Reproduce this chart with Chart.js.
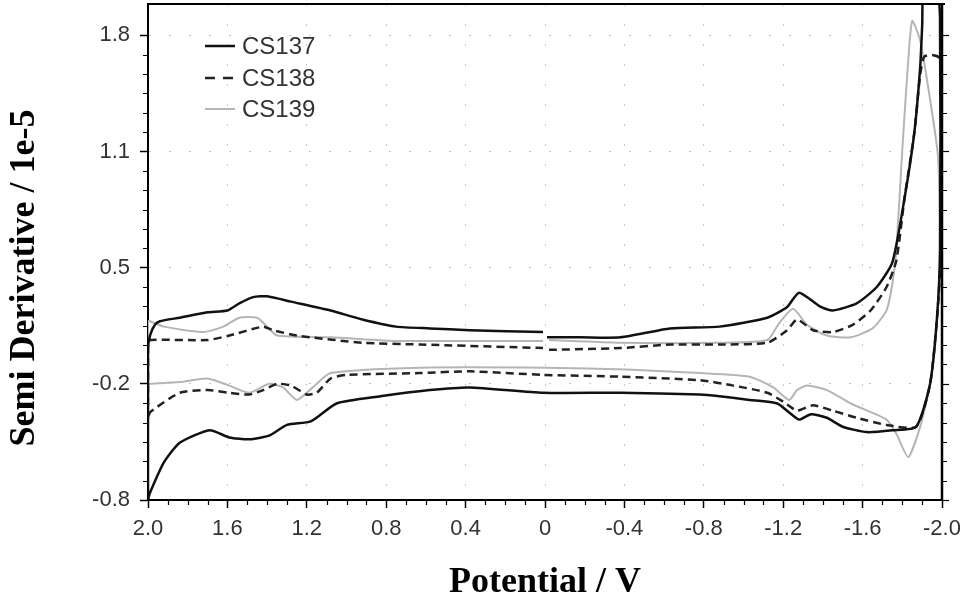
<!DOCTYPE html>
<html><head><meta charset="utf-8">
<script src="https://cdn.jsdelivr.net/npm/chart.js@4.4.1/dist/chart.umd.min.js"></script>
<style>html,body{margin:0;padding:0;background:#fff;}#wrap{width:963px;height:605px;}</style>
</head><body><div id="wrap"><canvas id="c" width="963" height="605"></canvas></div>
<script>
const seriesNames = ['CS137', 'CS138', 'CS139'];

const cs137X = [-0.01, -0.18, -0.38, -0.63, -0.88, -1.12, -1.22, -1.28, -1.39, -1.45, -1.57, -1.67, -1.75, -1.81, -1.86, -1.89, -1.90, -1.91, -1.97, -1.99, -1.99, -1.975, -1.94, -1.87, -1.75, -1.62, -1.50, -1.42, -1.34, -1.28, -1.23, -1.17, -1.03, -0.88, -0.78, -0.38, 0.01, 0.38, 0.58, 0.83, 1.05, 1.18, 1.30, 1.39, 1.49, 1.59, 1.69, 1.84, 1.92, 1.99, 2.0, 2.0, 1.99, 1.965, 1.94, 1.84, 1.70, 1.60, 1.54, 1.47, 1.40, 1.28, 1.08, 0.92, 0.75, 0.58, 0.38, 0.01];
const cs137Y = [0.11, 0.11, 0.11, 0.16, 0.17, 0.22, 0.28, 0.36, 0.28, 0.26, 0.30, 0.39, 0.53, 0.88, 1.25, 1.62, 1.85, 2.10, 2.10, 1.90, 0.60, 0.22, -0.15, -0.39, -0.41, -0.42, -0.39, -0.34, -0.32, -0.35, -0.31, -0.26, -0.24, -0.22, -0.21, -0.20, -0.20, -0.17, -0.185, -0.22, -0.26, -0.36, -0.38, -0.44, -0.46, -0.45, -0.41, -0.48, -0.59, -0.76, -0.80, 0.04, 0.12, 0.18, 0.20, 0.22, 0.25, 0.26, 0.30, 0.335, 0.34, 0.31, 0.26, 0.21, 0.17, 0.16, 0.15, 0.14];

const cs138X = [-0.02, -0.38, -0.63, -0.88, -1.12, -1.22, -1.27, -1.35, -1.45, -1.55, -1.64, -1.72, -1.77, -1.81, -1.86, -1.89, -1.91, -1.95, -1.99, -1.995, -1.975, -1.94, -1.87, -1.72, -1.57, -1.45, -1.35, -1.27, -1.20, -1.12, -0.95, -0.78, -0.38, 0.01, 0.38, 0.63, 1.00, 1.08, 1.15, 1.20, 1.28, 1.35, 1.42, 1.49, 1.59, 1.70, 1.84, 1.99, 2.0, 2.0, 1.99, 1.70, 1.59, 1.42, 1.37, 1.25, 0.92, 0.63, 0.01];
const cs138Y = [0.04, 0.05, 0.07, 0.07, 0.08, 0.15, 0.21, 0.15, 0.14, 0.18, 0.26, 0.39, 0.54, 0.88, 1.25, 1.58, 1.68, 1.69, 1.67, 0.60, 0.22, -0.15, -0.39, -0.38, -0.34, -0.30, -0.27, -0.30, -0.25, -0.20, -0.16, -0.13, -0.11, -0.10, -0.08, -0.09, -0.10, -0.12, -0.20, -0.21, -0.16, -0.15, -0.185, -0.21, -0.20, -0.185, -0.20, -0.31, -0.35, 0.07, 0.095, 0.095, 0.12, 0.17, 0.15, 0.12, 0.08, 0.07, 0.05];

const cs139X = [-0.02, -0.38, -0.88, -1.12, -1.18, -1.25, -1.32, -1.42, -1.54, -1.65, -1.72, -1.75, -1.77, -1.80, -1.83, -1.85, -1.89, -1.94, -1.98, -1.99, -1.975, -1.94, -1.89, -1.83, -1.77, -1.72, -1.54, -1.42, -1.32, -1.27, -1.23, -1.15, -1.03, -0.78, -0.41, -0.01, 0.63, 1.08, 1.17, 1.25, 1.32, 1.39, 1.49, 1.59, 1.70, 1.84, 1.99, 2.0, 2.0, 1.99, 1.92, 1.72, 1.62, 1.54, 1.45, 1.40, 1.35, 1.08, 0.75, 0.58, 0.01];
const cs139Y = [0.095, 0.08, 0.08, 0.095, 0.19, 0.27, 0.18, 0.12, 0.11, 0.16, 0.26, 0.41, 0.60, 1.16, 1.66, 1.88, 1.77, 1.44, 1.12, 0.60, 0.22, -0.15, -0.39, -0.56, -0.43, -0.35, -0.26, -0.185, -0.16, -0.185, -0.24, -0.17, -0.11, -0.09, -0.07, -0.06, -0.06, -0.09, -0.17, -0.24, -0.17, -0.15, -0.20, -0.16, -0.12, -0.14, -0.15, -0.15, 0.20, 0.20, 0.17, 0.14, 0.17, 0.22, 0.22, 0.17, 0.12, 0.11, 0.09, 0.09, 0.09];

const xTickValues = [2.0, 1.6, 1.2, 0.8, 0.4, 0, -0.4, -0.8, -1.2, -1.6, -2.0];
const xTickLabels = ['2.0', '1.6', '1.2', '0.8', '0.4', '0', '-0.4', '-0.8', '-1.2', '-1.6', '-2.0'];
const yTickValues = [-0.8, -0.15, 0.5, 1.15, 1.8];
const yTickLabels = ['-0.8', '-0.2', '0.5', '1.1', '1.8'];
const xTitle = 'Potential / V';
const yTitle = 'Semi Derivative / 1e-5';

function pts(xs, ys) { return xs.map((x, i) => ({ x: x, y: ys[i] })); }

const tickFont = { family: '"Liberation Sans", Arial, sans-serif', size: 22 };

const framePlugin = {
  id: 'frame',
  afterDraw(chart) {
    const ctx = chart.ctx, a = chart.chartArea;
    const xs = chart.scales.x, ys = chart.scales.y;
    ctx.save();
    ctx.strokeStyle = '#000';
    // top and right frame lines
    ctx.lineWidth = 2;
    ctx.beginPath(); ctx.moveTo(a.left, a.top); ctx.lineTo(a.right + 3, a.top); ctx.stroke();
    ctx.lineWidth = 2.5;
    ctx.beginPath(); ctx.moveTo(a.right, a.top); ctx.lineTo(a.right, a.bottom); ctx.stroke();
    // minor ticks
    ctx.lineWidth = 1.2;
    const yStep = 0.65 / 6;
    for (let k = 0; k <= 24; k++) {
      const py = Math.round(ys.getPixelForValue(-0.8 + k * yStep)) + 0.5;
      ctx.beginPath();
      if (k % 6 !== 0) { ctx.moveTo(a.left - 5, py); ctx.lineTo(a.left, py); }
      ctx.moveTo(a.right, py); ctx.lineTo(a.right + (k % 6 === 0 ? 7 : 5), py);
      ctx.stroke();
    }
    for (let k = 0; k <= 40; k++) {
      if (k % 4 === 0) continue;
      const px = Math.round(xs.getPixelForValue(-2 + k * 0.1)) + 0.5;
      ctx.beginPath(); ctx.moveTo(px, a.bottom); ctx.lineTo(px, a.bottom + 5); ctx.stroke();
    }
    // y title
    ctx.fillStyle = '#000';
    ctx.font = 'bold 36px "Liberation Serif", "Times New Roman", serif';
    ctx.textAlign = 'center'; ctx.textBaseline = 'middle';
    ctx.translate(25, 278); ctx.rotate(-Math.PI / 2);
    ctx.fillText(yTitle, 0, 0);
    ctx.restore();
    // legend
    ctx.save();
    const rows = [46, 78, 109];
    chart.data.datasets.forEach((ds, i) => {
      const y = rows[i];
      ctx.strokeStyle = ds.borderColor; ctx.lineWidth = ds.borderWidth;
      ctx.setLineDash(ds.borderDash && ds.borderDash.length ? [10, 8] : []);
      ctx.beginPath(); ctx.moveTo(205, y); ctx.lineTo(235, y); ctx.stroke();
      ctx.setLineDash([]);
      ctx.fillStyle = '#333';
      ctx.font = '24px "Liberation Sans", Arial, sans-serif';
      ctx.textAlign = 'left'; ctx.textBaseline = 'middle';
      ctx.fillText(ds.label, 242, y + 1);
    });
    ctx.restore();
  }
};

new Chart(document.getElementById('c'), {
  type: 'scatter',
  data: {
    datasets: [
      { label: seriesNames[0], data: pts(cs137X, cs137Y), showLine: true, borderColor: '#111', borderWidth: 2.5, pointRadius: 0, tension: 0.2 },
      { label: seriesNames[1], data: pts(cs138X, cs138Y), showLine: true, borderColor: '#222', borderWidth: 2.5, borderDash: [8, 5], pointRadius: 0, tension: 0.2 },
      { label: seriesNames[2], data: pts(cs139X, cs139Y), showLine: true, borderColor: '#b5b5b5', borderWidth: 2, pointRadius: 0, tension: 0.2 }
    ]
  },
  options: {
    responsive: false, animation: false, devicePixelRatio: 1,
    layout: { padding: { left: 0, right: 21, top: 4, bottom: 0 } },
    plugins: { legend: { display: false }, tooltip: { enabled: false } },
    scales: {
      x: {
        type: 'linear', reverse: true, min: -2, max: 2,
        afterBuildTicks: s => { s.ticks = xTickValues.map(v => ({ value: v })); },
        afterFit: s => { s.height = 105; s.paddingLeft = 0; s.paddingRight = 0; },
        ticks: { callback: v => xTickLabels[xTickValues.indexOf(v)], font: tickFont, color: '#333', padding: 8, autoSkip: false, maxRotation: 0 },
        grid: { color: 'rgba(0,0,0,0.22)', lineWidth: 1, tickLength: 8, tickColor: '#000', tickWidth: 1.5 },
        border: { display: true, color: '#000', width: 2, dash: [2, 18] },
        title: { display: true, text: xTitle, color: '#000', font: { family: '"Liberation Serif", "Times New Roman", serif', size: 36, weight: 'bold' }, padding: { top: 0, bottom: 1 } }
      },
      y: {
        type: 'linear', min: -0.8, max: 1.975,
        afterBuildTicks: s => { s.ticks = yTickValues.map(v => ({ value: v })); },
        afterFit: s => { s.width = 148; s.paddingTop = 0; s.paddingBottom = 0; },
        ticks: { callback: v => yTickLabels[yTickValues.indexOf(v)], font: tickFont, color: '#333', padding: 10, autoSkip: false },
        grid: { color: 'rgba(0,0,0,0.22)', lineWidth: 1, tickLength: 8, tickColor: '#000', tickWidth: 1.5 },
        border: { display: true, color: '#000', width: 2, dash: [2, 18] },
        title: { display: false }
      }
    }
  },
  plugins: [framePlugin]
});
</script>
</body></html>
